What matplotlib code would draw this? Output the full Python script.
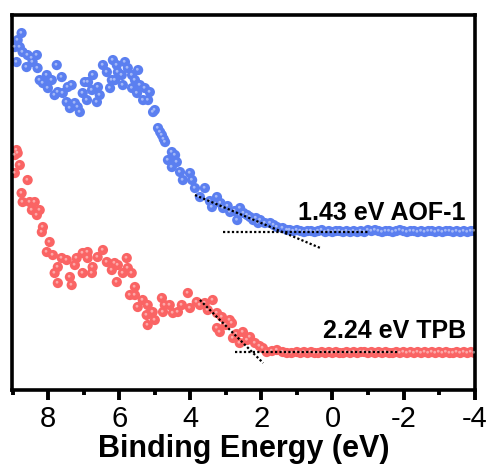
import matplotlib
matplotlib.use("Agg")
import matplotlib.pyplot as plt
from matplotlib.transforms import offset_copy

plt.rcParams["font.family"] = ["Liberation Sans", "DejaVu Sans"]
plt.rcParams["axes.unicode_minus"] = False

# ---------------------------------------------------------------------------
# Data (binding energy in eV, intensity in arb. units)
# ---------------------------------------------------------------------------

aof_energy = [
    8.75, 8.86, 8.94, 8.80, 8.72, 8.58, 8.46, 8.32, 8.44, 8.89, 8.61, 8.30,
    8.24, 8.04, 8.15, 7.90, 8.01, 7.82, 7.76, 7.62, 7.73, 7.59, 7.48, 7.39,
    7.34, 7.45, 7.25, 7.11, 7.17, 6.97, 6.88, 7.03, 6.91, 6.74, 6.77, 6.63,
    6.60, 6.55, 6.46, 6.35, 6.26, 6.18, 6.07, 6.21, 6.04, 6.12, 5.93, 5.84,
    5.76, 5.90, 5.64, 5.56, 5.47, 5.64, 5.42, 5.28, 5.50, 5.14, 5.33, 5.19,
    5.05, 5.00, 4.91, 4.85, 4.80, 4.75, 4.71, 4.52, 4.43, 4.63, 4.38, 4.52,
    4.29, 4.01, 4.21, 3.95, 3.87, 3.59, 3.73, 3.45, 3.25, 3.39, 3.15, 3.08,
    2.95, 2.88, 2.75, 2.60, 2.68, 2.50, 2.40, 2.32, 2.23, 2.15, 2.09, 2.03,
    1.90, 1.75, 1.65, 1.56, 1.40, 1.27,
    1.2, 1.1, 1.0, 0.9, 0.8, 0.7, 0.6, 0.5, 0.4, 0.3, 0.2, 0.1, 0.0,
    -0.1, -0.2, -0.3, -0.4, -0.5, -0.6, -0.7, -0.8, -0.9, -1.0, -1.1, -1.2,
    -1.3, -1.4, -1.5, -1.6, -1.7, -1.8, -1.9, -2.0, -2.1, -2.2, -2.3, -2.4,
    -2.5, -2.6, -2.7, -2.8, -2.9, -3.0, -3.1, -3.2, -3.3, -3.4, -3.5, -3.6,
    -3.7, -3.8, -3.9, -4.0,
]
aof_intensity = [
    356, 349, 342, 342, 337, 334, 331, 334, 327, 327, 322, 321,
    309, 314, 306, 309, 301, 294, 324, 312, 297, 296, 287, 281,
    304, 302, 286, 277, 282, 307, 307, 296, 289, 314, 299, 287,
    302, 294, 324, 317, 301, 329, 324, 309, 317, 309, 314, 327,
    321, 304, 314, 309, 319, 301, 304, 301, 296, 297, 289, 289,
    277, 279, 261, 257, 254, 250, 247, 237, 234, 229, 227, 222,
    217, 216, 209, 209, 201, 201, 192, 188, 192, 182, 186, 181,
    183, 177, 178, 181, 169, 176, 174, 172, 169, 171, 166, 169,
    166, 166, 164, 162, 161, 159,
    159, 158, 159, 158, 157, 158, 158, 157, 158, 159, 157, 158, 157,
    158, 158, 157, 158, 157, 158, 157, 158, 157, 159, 158, 159,
    158, 157, 158, 158, 157, 158, 159, 158, 157, 158, 158, 157,
    158, 157, 158, 158, 157, 158, 157, 158, 158, 157, 158, 157,
    158, 157, 158, 158,
]

tpb_energy = [
    8.89, 8.86, 8.94, 8.80, 8.94, 8.58, 8.75, 8.72, 8.52, 8.38, 8.46, 8.32,
    8.24, 8.15, 8.18, 7.96, 8.04, 7.87, 7.62, 7.73, 7.82, 7.73, 7.48, 7.39,
    7.34, 7.20, 7.25, 7.03, 7.03, 6.89, 6.89, 6.75, 6.77, 6.61, 6.46, 6.35,
    6.21, 6.13, 6.04, 5.79, 5.76, 5.90, 6.07, 5.65, 5.56, 5.70, 5.56, 5.48,
    5.34, 5.20, 5.23, 5.06, 5.20, 5.00, 4.80, 4.72, 4.58, 4.77, 4.49, 4.35,
    4.24, 4.07, 4.01, 3.82, 3.73, 3.59, 3.37, 3.51, 3.25, 3.11, 3.00, 2.89,
    2.83, 3.25, 3.17, 2.80, 2.70, 2.52, 2.40, 2.32, 2.61, 2.18, 2.05, 1.96,
    1.85, 1.70, 1.56, 1.40, 1.28, 1.15,
    1.0, 0.9, 0.8, 0.7, 0.6, 0.5, 0.4, 0.3, 0.2, 0.1, 0.0,
    -0.1, -0.2, -0.3, -0.4, -0.5, -0.6, -0.7, -0.8, -0.9, -1.0, -1.1, -1.2,
    -1.3, -1.4, -1.5, -1.6, -1.7, -1.8, -1.9, -2.0, -2.1, -2.2, -2.3, -2.4,
    -2.5, -2.6, -2.7, -2.8, -2.9, -3.0, -3.1, -3.2, -3.3, -3.4, -3.5, -3.6,
    -3.7, -3.8, -3.9, -4.0,
]
tpb_intensity = [
    239, 236, 234, 224, 216, 209, 196, 187, 187, 187, 179, 174,
    179, 162, 157, 147, 137, 134, 131, 122, 116, 106, 129, 112,
    104, 131, 124, 136, 116, 137, 131, 122, 116, 132, 139, 127,
    119, 126, 124, 131, 121, 116, 107, 116, 102, 94, 94, 82,
    89, 84, 74, 77, 64, 69, 91, 84, 84, 77, 76, 77,
    84, 96, 81, 87, 84, 86, 89, 79, 76, 72, 64, 69,
    66, 61, 57, 51, 55, 57, 49, 52, 46, 46, 43, 41,
    37, 38, 39, 37, 36, 36,
    37, 36, 37, 36, 37, 36, 36, 37, 36, 37, 36,
    37, 36, 36, 37, 36, 37, 36, 37, 37, 36, 37, 36,
    37, 36, 37, 36, 36, 37, 36, 37, 36, 37, 36, 37,
    36, 37, 36, 37, 36, 37, 36, 37, 36, 36, 37, 36,
    37, 36, 37, 36,
]

# linear extrapolations (onset fits): [start, end] energy and intensity
aof_slope_x = [3.87, 0.34]
aof_slope_y = [194, 141]
aof_base_x = [3.08, -1.01]
aof_base_y = [157, 157]

tpb_slope_x = [3.73, 1.95]
tpb_slope_y = [89, 26]
tpb_base_x = [2.74, -1.86]
tpb_base_y = [37, 37]

labels = ["1.43 eV AOF-1", "2.24 eV TPB"]
label_pos = [(-3.75, 169), (-3.75, 51)]

BLUE = "#5b7ff0"
RED = "#fa6464"

# ---------------------------------------------------------------------------
# Plot
# ---------------------------------------------------------------------------

fig = plt.figure(figsize=(4.9, 4.74), dpi=100)
ax = fig.add_axes([0.0245, 0.1772, 0.944, 0.791])

# glossy "ball" markers: base disc plus a small highlight
hl = offset_copy(ax.transData, fig=fig, x=-0.8, y=0.8, units="dots")
for xs, ys, col in [(aof_energy, aof_intensity, BLUE), (tpb_energy, tpb_intensity, RED)]:
    ax.scatter(xs, ys, s=54, color=col, edgecolors="none", zorder=2)
    ax.scatter(xs, ys, s=4, color="white", alpha=0.45, edgecolors="none",
               zorder=3, transform=hl)

dot = dict(color="black", linestyle=(0, (1, 1)), linewidth=1.6, zorder=4)
ax.plot(aof_slope_x, aof_slope_y, **dot)
ax.plot(aof_base_x, aof_base_y, **dot)
ax.plot(tpb_slope_x, tpb_slope_y, **dot)
ax.plot(tpb_base_x, tpb_base_y, **dot)

for txt, (x, y) in zip(labels, label_pos):
    ax.text(x, y, txt, ha="right", va="baseline", fontsize=18,
            fontweight="bold", zorder=5)

ax.set_xlim(9.02, -4)
ax.set_ylim(-1, 374)
ax.set_xticks([8, 6, 4, 2, 0, -2, -4])
ax.set_xticks([9, 7, 5, 3, 1, -1, -3], minor=True)
ax.set_yticks([])
ax.tick_params(axis="x", which="major", direction="out", length=7.5,
               width=2.8, labelsize=21, pad=3)
ax.tick_params(axis="x", which="minor", direction="out", length=3.8, width=2.8)
for sp in ax.spines.values():
    sp.set_linewidth(2.6)

ax.set_xlabel("Binding Energy (eV)", fontsize=22, fontweight="bold", labelpad=1)

fig.savefig("out.png", dpi=100)
